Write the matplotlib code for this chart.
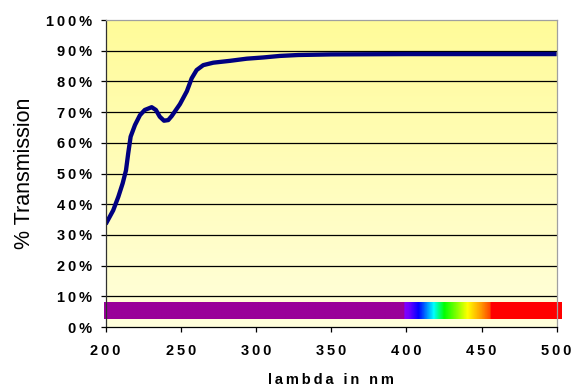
import numpy as np
import matplotlib.pyplot as plt
from matplotlib.colors import LinearSegmentedColormap
from matplotlib.ticker import FuncFormatter

# transmission curve
wavelength = [200, 205, 208.4, 211.3, 213.5, 215, 216.6, 219.5, 222.8, 226, 230.6,
              233.4, 236, 238.8, 241.6, 243.9, 249.4, 254, 257.2, 260.5, 264.9,
              271.6, 282.7, 293.8, 304.8, 315.9, 328.1, 350, 400, 450, 500]
transmission = [33.5, 38, 42.4, 46.8, 51, 56.6, 62, 65.8, 69, 70.7, 71.6,
                70.7, 68.5, 67.2, 67.4, 68.7, 72.6, 76.8, 81, 83.7, 85.3,
                86.1, 86.7, 87.4, 87.8, 88.3, 88.6, 88.8, 88.9, 88.9, 88.9]

# colour bar under the curve (nm stops and colours)
spec_nm = [199, 398.5, 398.6, 401.5, 408, 413, 418, 425, 433, 440.5, 449.5, 455.9, 456, 503]
spec_col = ['#990099', '#990099', '#8000ff', '#7000ff', '#0000ff', '#0080ff', '#00ffff',
            '#00ff00', '#80ff00', '#ffff00', '#ff9900', '#ff4000', '#ff0000', '#ff0000']
bar_low, bar_high = 2.7, 8.2

x_ticks = [200, 250, 300, 350, 400, 450, 500]
y_ticks = list(range(0, 101, 10))


def spaced(s):
    # Excel-style letter spacing
    return '\u2009'.join(s)


plt.rcParams['font.family'] = ['Liberation Sans', 'DejaVu Sans']

fig = plt.figure(figsize=(5.8, 3.87), dpi=100)
ax = fig.add_axes([0.1822, 0.155, 0.7776, 0.7933])

# yellow gradient background
grad = np.linspace(0, 1, 256).reshape(-1, 1)
bg = LinearSegmentedColormap.from_list('bg', ['#ffffdc', '#fffb99'])
ax.imshow(grad, cmap=bg, origin='lower', extent=[0, 1, 0, 1], transform=ax.transAxes,
          aspect='auto', zorder=0)

for y in y_ticks[1:-1]:
    ax.axhline(y, color='black', lw=0.9, zorder=1)

# spectrum strip
lo, hi = spec_nm[0], spec_nm[-1]
stops = [(v - lo) / (hi - lo) for v in spec_nm]
spec = LinearSegmentedColormap.from_list('spec', list(zip(stops, spec_col)), N=1024)
strip = np.linspace(0, 1, 1200).reshape(1, -1)
ax.imshow(strip, cmap=spec, extent=[lo, hi, bar_low, bar_high], aspect='auto',
          zorder=2, clip_on=False, interpolation='bilinear')

ax.plot(wavelength, transmission, color='#000080', lw=3.1, zorder=3,
        solid_capstyle='butt', solid_joinstyle='round')

ax.set_xlim(200, 500)
ax.set_ylim(0, 100)
ax.set_xticks(x_ticks)
ax.set_yticks(y_ticks)
ax.xaxis.set_major_formatter(FuncFormatter(lambda v, p: spaced('%d' % v)))
ax.yaxis.set_major_formatter(FuncFormatter(lambda v, p: spaced('%d%%' % v)))
ax.tick_params(axis='both', direction='out', length=3.4, width=0.9, color='black',
               labelsize=10.5)
ax.tick_params(axis='y', pad=6.5)
ax.tick_params(axis='x', pad=9)
for lab in ax.get_xticklabels() + ax.get_yticklabels():
    lab.set_fontweight('bold')

ax.spines['top'].set_color('#a0a0a0')
ax.spines['right'].set_color('#a0a0a0')
ax.spines['left'].set_color('#303030')
ax.spines['bottom'].set_color('black')
for s in ax.spines.values():
    s.set_linewidth(0.9)
    s.set_zorder(4)

ax.set_xlabel(spaced('lambda in nm'), fontsize=10.5, fontweight='bold', labelpad=10.5)
ax.set_ylabel('% Transmission', fontsize=15.5, labelpad=8)

fig.savefig('out.png', dpi=100)
